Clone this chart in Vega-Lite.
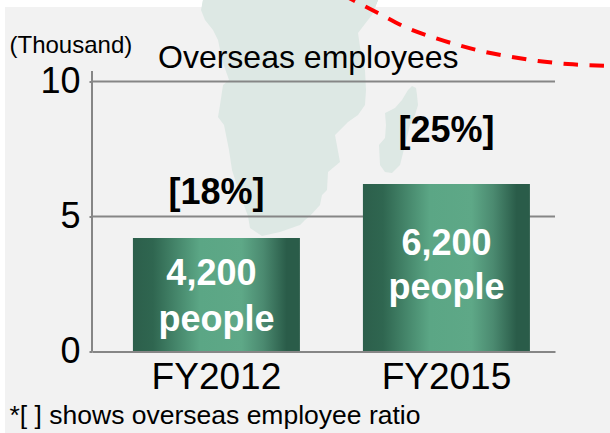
{
  "$schema": "https://vega.github.io/schema/vega-lite/v6.json",
  "width": 463,
  "height": 270,
  "autosize": "none",
  "padding": {"left": 92, "top": 81.5, "right": 55, "bottom": 81.5},
  "background": "#ffffff",
  "view": {"stroke": null},
  "title": {"text": "Overseas employees", "font": "Liberation Sans", "fontSize": 32, "fontWeight": "normal", "color": "#000000", "anchor": "start", "frame": "group", "dx": 66, "dy": 85, "offset": 0},
  "config": {"font": "Liberation Sans"},
  "datasets": {
    "panel": [{"x0": -87, "x1": 518, "y0": -81.5, "y1": 344.5}],
    "strip": [
      {"n": 1, "x": 111, "y": 351.5}, {"n": 2, "x": 286, "y": 351.5}, {"n": 3, "x": 283, "y": 344}, {"n": 4, "x": 110, "y": 344}
    ],
    "africa": [
      {"n": 1, "x": 111, "y": 351.5}, {"n": 2, "x": 109, "y": 341.5}, {"n": 3, "x": 113, "y": 331.5}, {"n": 4, "x": 121, "y": 321.5},
      {"n": 5, "x": 126, "y": 311.5}, {"n": 6, "x": 130, "y": 291.5}, {"n": 7, "x": 137, "y": 271.5}, {"n": 8, "x": 131, "y": 266.5},
      {"n": 9, "x": 128, "y": 246.5}, {"n": 10, "x": 126, "y": 234.5}, {"n": 11, "x": 132, "y": 226.5}, {"n": 12, "x": 137, "y": 201.5},
      {"n": 13, "x": 140, "y": 181.5}, {"n": 14, "x": 148, "y": 156.5}, {"n": 15, "x": 156, "y": 135.5}, {"n": 16, "x": 158, "y": 123.5},
      {"n": 17, "x": 170, "y": 115.5}, {"n": 18, "x": 188, "y": 119.5}, {"n": 19, "x": 208, "y": 126.5}, {"n": 20, "x": 213, "y": 131.5},
      {"n": 21, "x": 218, "y": 135.5}, {"n": 22, "x": 228, "y": 146.5}, {"n": 23, "x": 230, "y": 156.5}, {"n": 24, "x": 235, "y": 161.5},
      {"n": 25, "x": 236, "y": 179.5}, {"n": 26, "x": 248, "y": 189.5}, {"n": 27, "x": 243, "y": 216.5}, {"n": 28, "x": 256, "y": 229.5},
      {"n": 29, "x": 266, "y": 236.5}, {"n": 30, "x": 273, "y": 246.5}, {"n": 31, "x": 274, "y": 261.5}, {"n": 32, "x": 273, "y": 281.5},
      {"n": 33, "x": 268, "y": 304.5}, {"n": 34, "x": 266, "y": 318.5}, {"n": 35, "x": 276, "y": 331.5}, {"n": 36, "x": 280, "y": 336.5},
      {"n": 37, "x": 286, "y": 351.5}
    ],
    "madagascar": [
      {"n": 1, "x": 320, "y": 265.5}, {"n": 2, "x": 324, "y": 263.5}, {"n": 3, "x": 325, "y": 256.5}, {"n": 4, "x": 326, "y": 246.5},
      {"n": 5, "x": 323, "y": 236.5}, {"n": 6, "x": 318, "y": 226.5}, {"n": 7, "x": 313, "y": 206.5}, {"n": 8, "x": 308, "y": 186.5},
      {"n": 9, "x": 300, "y": 178.5}, {"n": 10, "x": 293, "y": 179.5}, {"n": 11, "x": 288, "y": 186.5}, {"n": 12, "x": 287, "y": 206.5},
      {"n": 13, "x": 293, "y": 213.5}, {"n": 14, "x": 294, "y": 226.5}, {"n": 15, "x": 293, "y": 238.5}, {"n": 16, "x": 303, "y": 243.5},
      {"n": 17, "x": 310, "y": 251.5}, {"n": 18, "x": 316, "y": 261.5}
    ],
    "route": [
      {"n": 1, "x": 257, "y": 353.5}, {"n": 2, "x": 286, "y": 338.5}, {"n": 3, "x": 313, "y": 324.5}, {"n": 4, "x": 340, "y": 314.5},
      {"n": 5, "x": 366, "y": 306.5}, {"n": 6, "x": 393, "y": 299.5}, {"n": 7, "x": 420, "y": 294.5}, {"n": 8, "x": 446, "y": 290.5},
      {"n": 9, "x": 476, "y": 287.5}, {"n": 10, "x": 518, "y": 285.5}
    ],
    "axisStem": [{"x": 0, "y0": 0, "y1": 280.5}],
    "grid": [{"tick": 5}, {"tick": 10}],
    "staff": [
      {"year": "FY2012", "employees": 4.2, "share": "[18%]", "shareAt": 5.87, "count": "4,200", "countAt": 2.87, "unit": "people", "unitAt": 1.15},
      {"year": "FY2015", "employees": 6.2, "share": "[25%]", "shareAt": 8.17, "count": "6,200", "countAt": 4.0, "unit": "people", "unitAt": 2.35}
    ]
  },
  "resolve": {"scale": {"x": "independent", "y": "independent"}, "axis": {"x": "independent", "y": "independent"}},
  "layer": [
    {
      "encoding": {
        "x": {"field": "x", "type": "quantitative", "axis": null, "scale": {"domain": [0, 463], "nice": false, "zero": false}},
        "y": {"field": "y", "type": "quantitative", "axis": null, "scale": {"domain": [0, 270], "nice": false, "zero": false}},
        "order": {"field": "n", "type": "ordinal"}
      },
      "layer": [
        {"data": {"name": "strip"}, "mark": {"type": "line", "fill": "#cfe5dc", "stroke": null}},
        {
          "data": {"name": "panel"},
          "mark": {"type": "rect", "color": "#f2f2f2"},
          "encoding": {
            "x": {"field": "x0", "type": "quantitative"},
            "x2": {"field": "x1"},
            "y": {"field": "y0", "type": "quantitative"},
            "y2": {"field": "y1"},
            "order": null
          }
        },
        {"data": {"name": "africa"}, "mark": {"type": "line", "fill": "#dde8e4", "stroke": null}},
        {"data": {"name": "madagascar"}, "mark": {"type": "line", "fill": "#dde8e4", "stroke": null}},
        {"data": {"name": "route"}, "mark": {"type": "line", "color": "#ff0000", "strokeWidth": 4, "strokeDash": [14.5, 11.5], "strokeDashOffset": 7.6, "interpolate": "monotone"}},
        {
          "data": {"name": "axisStem"},
          "mark": {"type": "rule", "color": "#868686", "strokeWidth": 2},
          "encoding": {
            "x": {"field": "x", "type": "quantitative"},
            "y": {"field": "y0", "type": "quantitative"},
            "y2": {"field": "y1"},
            "order": null
          }
        }
      ]
    },
    {
      "encoding": {
        "x": {
          "field": "year", "type": "nominal", "title": "*[ ] shows overseas employee ratio",
          "scale": {"type": "band", "paddingInner": 0.274, "paddingOuter": 0.1435, "align": 0.62},
          "axis": {
            "labelAngle": 0, "labelFontSize": 37, "labelColor": "#000000", "labelPadding": 8, "labelFont": "Liberation Sans",
            "ticks": false, "domainColor": "#868686", "domainWidth": 2, "zindex": 1,
            "titleFont": "Liberation Sans", "titleFontSize": 26.5, "titleFontWeight": "normal", "titleColor": "#000000",
            "titleAnchor": "start", "titleAlign": "left", "titleBaseline": "middle", "titleX": -83, "titleY": 64
          }
        },
        "y": {
          "type": "quantitative",
          "scale": {"domain": [0, 10], "nice": false},
          "axis": {
            "values": [0, 5, 10], "title": "(Thousand)", "grid": false, "domain": false, "tickColor": "#868686", "tickWidth": 2, "tickSize": 3,
            "labelFontSize": 36, "labelColor": "#000000", "labelPadding": 9, "labelFont": "Liberation Sans", "zindex": 1,
            "titleFont": "Liberation Sans", "titleFontSize": 24, "titleFontWeight": "normal", "titleColor": "#000000",
            "titleAngle": 0, "titleAlign": "left", "titleBaseline": "middle", "titleX": -83, "titleY": -36
          }
        }
      },
      "layer": [
        {
          "data": {"name": "grid"},
          "mark": {"type": "rule", "color": "#868686", "strokeWidth": 2},
          "encoding": {"x": null, "y": {"field": "tick", "type": "quantitative"}}
        },
        {
          "data": {"name": "staff"},
          "mark": {
            "type": "bar", "width": 167,
            "color": {"gradient": "linear", "x1": 0, "x2": 1, "y1": 0, "y2": 0, "stops": [
              {"offset": 0, "color": "#2c5f4b"}, {"offset": 0.12, "color": "#2f6650"}, {"offset": 0.4, "color": "#5ba685"},
              {"offset": 0.65, "color": "#5ea887"}, {"offset": 0.78, "color": "#4b8a70"}, {"offset": 0.92, "color": "#2a5c49"}, {"offset": 1, "color": "#2a5c49"}
            ]}
          },
          "encoding": {"y": {"field": "employees", "type": "quantitative"}}
        },
        {
          "data": {"name": "staff"},
          "mark": {"type": "text", "fontSize": 36, "fontWeight": "bold", "color": "#000000", "baseline": "middle"},
          "encoding": {"y": {"field": "shareAt", "type": "quantitative"}, "text": {"field": "share"}}
        },
        {
          "data": {"name": "staff"},
          "transform": [{"filter": "datum.year === 'FY2012'"}],
          "mark": {"type": "text", "fontSize": 36, "fontWeight": "bold", "color": "#ffffff", "baseline": "middle", "dx": -5},
          "encoding": {"y": {"field": "countAt", "type": "quantitative"}, "text": {"field": "count"}}
        },
        {
          "data": {"name": "staff"},
          "transform": [{"filter": "datum.year === 'FY2015'"}],
          "mark": {"type": "text", "fontSize": 36, "fontWeight": "bold", "color": "#ffffff", "baseline": "middle"},
          "encoding": {"y": {"field": "countAt", "type": "quantitative"}, "text": {"field": "count"}}
        },
        {
          "data": {"name": "staff"},
          "mark": {"type": "text", "fontSize": 36, "fontWeight": "bold", "color": "#ffffff", "baseline": "middle"},
          "encoding": {"y": {"field": "unitAt", "type": "quantitative"}, "text": {"field": "unit"}}
        }
      ]
    }
  ]
}
